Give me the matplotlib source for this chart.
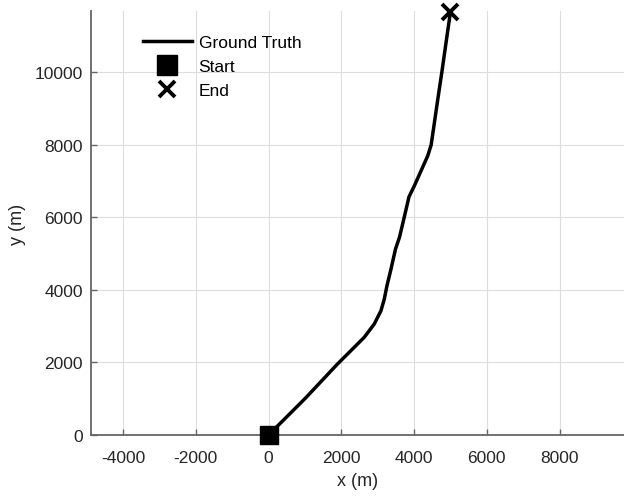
import numpy as np
import matplotlib.pyplot as plt
from matplotlib.lines import Line2D

plt.rcParams['font.family'] = ['Liberation Sans', 'DejaVu Sans']
plt.rcParams['axes.unicode_minus'] = False

# ground truth trajectory (m)
gt_x = [0, 1000, 1895, 2262, 2630, 2906, 3090, 3182, 3255, 3366, 3490, 3600,
        3733, 3860, 4009, 4193, 4377, 4469, 4560, 4653, 4764, 4920, 5000]
gt_y = [0, 1000, 1956, 2322, 2691, 3058, 3425, 3747, 4113, 4573, 5124, 5450,
        6014, 6560, 6868, 7281, 7694, 7989, 8614, 9256, 10000, 11100, 11650]

xticks = [-4000, -2000, 0, 2000, 4000, 6000, 8000]
yticks = [0, 2000, 4000, 6000, 8000, 10000]

fig = plt.figure(figsize=(6.24, 5.02), dpi=100)
ax = fig.add_axes([91/624, 66/502, 533/624, 424/502])

ax.plot(gt_x, gt_y, color='k', lw=2.5, solid_joinstyle='round',
        solid_capstyle='round', zorder=3)
ax.plot(gt_x[0], gt_y[0], 's', color='k', ms=13, zorder=4, clip_on=False)
ax.plot(gt_x[-1], gt_y[-1], 'x', color='k', ms=11, mew=2.8, zorder=4, clip_on=False)

ax.set_xlim(-4880, 9770)
ax.set_ylim(0, 11680)
ax.set_xticks(xticks)
ax.set_yticks(yticks)
ax.grid(True, color='#dddddd', lw=0.8)
ax.set_axisbelow(True)
for s in ['top', 'right']:
    ax.spines[s].set_visible(False)
for s in ['left', 'bottom']:
    ax.spines[s].set_color('#666666')
    ax.spines[s].set_linewidth(1.3)
ax.tick_params(direction='in', length=4, width=1, color='#666666',
               labelsize=12.5, labelcolor='#262626')
ax.tick_params(axis='x', pad=11)
ax.tick_params(axis='y', pad=6)
ax.set_xlabel('x (m)', fontsize=13, color='#262626', labelpad=5)
ax.set_ylabel('y (m)', fontsize=13, color='#262626', labelpad=6)

handles = [
    Line2D([], [], color='k', lw=2.5),
    Line2D([], [], color='k', marker='s', ls='none', ms=14),
    Line2D([], [], color='k', marker='x', ls='none', ms=11, mew=2.8),
]
ax.legend(handles, ['Ground Truth', 'Start', 'End'], frameon=False,
          loc='upper left', bbox_to_anchor=(143/624, 1 - 36/502),
          bbox_transform=fig.transFigure, fontsize=12.5,
          handlelength=2.8, handletextpad=0.4, labelspacing=0.5,
          borderpad=0, borderaxespad=0)

fig.savefig('out.png', dpi=100)
